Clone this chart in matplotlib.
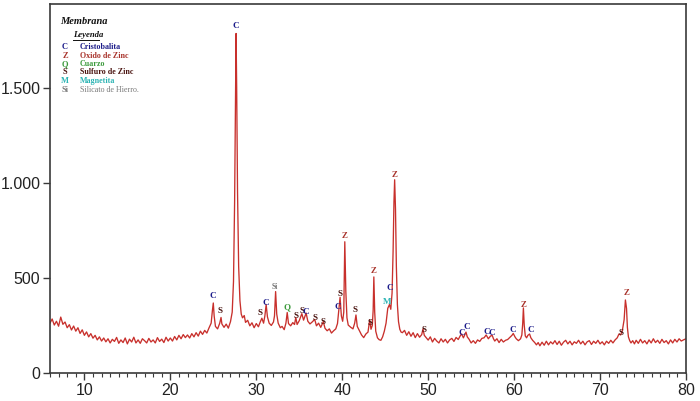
import matplotlib
matplotlib.use("Agg")
import matplotlib.pyplot as plt
from matplotlib.ticker import MultipleLocator, FuncFormatter
from matplotlib.lines import Line2D

# ---------------- data ----------------
two_theta = [
    6.00, 6.25, 6.50, 6.75, 7.00, 7.25, 7.50, 7.75, 8.00, 8.25, 8.50, 8.75, 9.00, 9.25, 9.50, 9.75,
    10.00, 10.25, 10.50, 10.75, 11.00, 11.25, 11.50, 11.75, 12.00, 12.25, 12.50, 12.75, 13.00, 13.25,
    13.50, 13.75, 14.00, 14.25, 14.50, 14.75, 15.00, 15.25, 15.50, 15.75, 16.00, 16.25, 16.50, 16.75,
    17.00, 17.25, 17.50, 17.75, 18.00, 18.25, 18.50, 18.75, 19.00, 19.25, 19.50, 19.75, 20.00, 20.25,
    20.50, 20.75, 21.00, 21.25, 21.50, 21.75, 22.00, 22.25, 22.50, 22.75, 23.00, 23.25, 23.50, 23.75,
    24.00, 24.25, 24.50, 24.75, 24.90, 25.00, 25.10, 25.25, 25.50, 25.75, 25.90, 26.00, 26.25, 26.50,
    26.75, 27.00, 27.20, 27.35, 27.48, 27.58, 27.65, 27.72, 27.82, 27.95, 28.10, 28.25, 28.40, 28.60,
    28.75, 29.00, 29.25, 29.50, 29.75, 30.00, 30.25, 30.45, 30.65, 30.85, 31.00, 31.15, 31.30, 31.50,
    31.75, 32.00, 32.12, 32.25, 32.38, 32.55, 32.80, 33.00, 33.25, 33.45, 33.60, 33.75, 34.00, 34.25,
    34.45, 34.60, 34.75, 35.00, 35.30, 35.50, 35.80, 36.00, 36.25, 36.50, 36.80, 37.00, 37.25, 37.50,
    37.80, 38.00, 38.25, 38.50, 38.75, 39.00, 39.25, 39.45, 39.60, 39.75, 39.90, 40.05, 40.18, 40.30,
    40.42, 40.55, 40.70, 41.00, 41.25, 41.45, 41.60, 41.75, 42.00, 42.25, 42.50, 42.75, 43.00, 43.20,
    43.35, 43.50, 43.60, 43.68, 43.78, 43.90, 44.10, 44.30, 44.50, 44.70, 44.90, 45.10, 45.30, 45.50,
    45.65, 45.80, 45.92, 46.02, 46.10, 46.20, 46.30, 46.42, 46.55, 46.70, 46.85, 47.00, 47.25, 47.50,
    47.75, 48.00, 48.25, 48.50, 48.75, 49.00, 49.25, 49.40, 49.55, 49.75, 50.00, 50.25, 50.50, 50.75,
    51.00, 51.25, 51.50, 51.75, 52.00, 52.25, 52.50, 52.75, 53.00, 53.25, 53.50, 53.75, 53.90, 54.10,
    54.25, 54.40, 54.55, 54.75, 55.00, 55.25, 55.50, 55.75, 56.00, 56.25, 56.50, 56.75, 57.00, 57.25,
    57.45, 57.60, 57.75, 58.00, 58.25, 58.50, 58.75, 59.00, 59.25, 59.50, 59.75, 59.90, 60.10, 60.25,
    60.50, 60.75, 60.90, 61.00, 61.08, 61.18, 61.30, 61.45, 61.60, 61.80, 61.95, 62.15, 62.40, 62.60,
    62.80, 63.00, 63.25, 63.50, 63.75, 64.00, 64.25, 64.50, 64.75, 65.00, 65.25, 65.50, 65.75, 66.00,
    66.25, 66.50, 66.75, 67.00, 67.25, 67.50, 67.75, 68.00, 68.25, 68.50, 68.75, 69.00, 69.25, 69.50,
    69.75, 70.00, 70.25, 70.50, 70.75, 71.00, 71.25, 71.50, 71.75, 72.00, 72.20, 72.40, 72.60, 72.80,
    72.95, 73.08, 73.18, 73.30, 73.45, 73.60, 73.80, 74.00, 74.20, 74.45, 74.70, 74.95, 75.20, 75.45,
    75.70, 75.95, 76.20, 76.45, 76.70, 76.95, 77.20, 77.45, 77.70, 77.95, 78.20, 78.45, 78.70, 78.95,
    79.20, 79.45, 79.70, 80.00,
]
intensity = [
    262, 284, 252, 272, 246, 294, 256, 268, 238, 254, 226, 247, 220, 238, 208, 227,
    198, 216, 190, 207, 183, 198, 174, 190, 168, 184, 164, 180, 158, 177,
    166, 187, 156, 174, 160, 184, 153, 178, 163, 188, 158, 174, 156, 180,
    170, 158, 182, 163, 174, 158, 186, 166, 178, 160, 188, 168, 184, 168,
    192, 174, 198, 180, 202, 186, 200, 184, 207, 190, 212, 194, 220, 203,
    224, 210, 237, 262, 330, 368, 300, 245, 232, 262, 292, 258, 240, 257,
    236, 270, 320, 480, 900, 1450, 1785, 1500, 950, 560, 380, 310, 290, 302,
    266, 277, 248, 264, 238, 260, 243, 267, 288, 262, 300, 360, 295, 262,
    250, 268, 300, 428, 310, 262, 238, 245, 228, 262, 318, 260, 248, 265,
    255, 292, 255, 275, 312, 278, 315, 272, 258, 268, 282, 248, 262, 240,
    270, 235, 222, 232, 210, 222, 232, 260, 330, 398, 300, 272, 320, 690,
    430, 290, 252, 240, 232, 262, 305, 245, 222, 200, 186, 205, 215, 280,
    230, 250, 330, 505, 320, 220, 185, 175, 172, 190, 220, 262, 340, 360,
    335, 420, 640, 900, 1016, 860, 560, 360, 270, 230, 215, 212, 224, 198,
    217, 193, 212, 186, 207, 188, 202, 232, 198, 187, 173, 190, 163, 182,
    168, 158, 180, 163, 177, 158, 174, 182, 166, 187, 176, 197, 205, 185,
    200, 215, 190, 178, 158, 170, 156, 174, 166, 182, 185, 200, 180, 194,
    198, 180, 168, 180, 160, 177, 163, 172, 176, 187, 198, 208, 190, 180,
    170, 180, 200, 260, 342, 250, 195, 185, 198, 205, 185, 172, 160, 148,
    160, 143, 162, 146, 167, 148, 164, 153, 170, 150, 167, 146, 162, 172,
    153, 167, 148, 164, 156, 172, 153, 167, 148, 164, 170, 150, 167, 156,
    172, 153, 164, 148, 167, 156, 172, 158, 174, 185, 205, 200, 225, 280,
    384, 340, 240, 190, 170, 158, 170, 153, 172, 156, 177, 158, 170, 153,
    174, 158, 180, 160, 172, 156, 177, 160, 170, 153, 174, 158, 177, 163,
    180, 168, 174, 180,
]

# phase labels above peaks: symbol, position (2theta), height
label_text = ["C", "S", "C", "S", "C", "Si", "Q", "S", "S", "C", "S", "S", "C", "S", "Z", "S",
              "S", "Z", "M", "C", "Z", "S", "C", "C", "C", "C", "C", "Z", "C", "S", "Z"]
label_x = [24.9, 25.8, 27.6, 30.4, 31.1, 32.2, 33.6, 34.6, 35.3, 35.8, 36.8, 37.8, 39.45, 39.8, 40.3, 41.55,
           43.2, 43.65, 45.2, 45.5, 46.05, 49.5, 53.9, 54.5, 56.8, 57.4, 59.8, 61.05, 61.9, 72.4, 73.1]
label_y = [405, 326, 1826, 316, 368, 453, 347, 300, 326, 321, 289, 268, 347, 416, 721, 332,
           263, 537, 374, 447, 1042, 226, 211, 242, 216, 211, 226, 358, 226, 211, 421]

legend_symbols = ["C", "Z", "Q", "S", "M", "Si"]
legend_names = ["Cristobalita", "Oxido de Zinc", "Cuarzo", "Sulfuro de Zinc", "Magnetita", "Silicato de Hierro."]

phase_colors = {"C": "#1c1c8a", "Z": "#a8322a", "Q": "#3c9a3c", "S": "#4a1410",
                "M": "#2cb4b4", "Si": "#7a7a7a"}

x_ticks = [10, 20, 30, 40, 50, 60, 70, 80]
y_ticks = [0, 500, 1000, 1500]

# ---------------- figure ----------------
W, H = 700, 401
fig = plt.figure(figsize=(7.0, 4.01), dpi=100)
ax = fig.add_axes([50 / W, (H - 373) / H, (686 - 50) / W, (373 - 4) / H])

ax.plot(two_theta, intensity, color="#c8302c", lw=0.95)

ax.set_xlim(6, 80)
ax.set_ylim(0, 1940)
ax.set_xticks(x_ticks)
ax.set_yticks(y_ticks)
ax.xaxis.set_minor_locator(MultipleLocator(1))
ax.yaxis.set_major_formatter(FuncFormatter(lambda v, p: f"{int(v):,}".replace(",", ".")))

for s in ax.spines.values():
    s.set_color("#3a3a3a")
    s.set_linewidth(1.2)
ax.tick_params(axis="both", which="major", direction="out", length=5, width=1, color="#3a3a3a",
               labelsize=11.5, labelcolor="#222222", pad=2)
ax.tick_params(axis="x", which="minor", direction="out", length=3, width=0.8, color="#3a3a3a")
for lab in ax.get_xticklabels() + ax.get_yticklabels():
    lab.set_family(["Liberation Sans", "DejaVu Sans"])

# peak labels
for t, xv, yv in zip(label_text, label_x, label_y):
    ax.text(xv, yv, t, color=phase_colors[t], ha="center", va="center",
            fontsize=6.5 if t != "Si" else 5.5, fontweight="bold", family="Liberation Serif")

# legend block (top-left)
def fx(px):
    return px / W

def fy(py):
    return 1 - py / H

fig.text(fx(60), fy(22), "Membrana", fontsize=7.5, fontweight="bold", fontstyle="italic",
         family="Liberation Serif", color="#111111", va="center")
fig.text(fx(73), fy(35), "Leyenda", fontsize=6.2, fontweight="bold", fontstyle="italic",
         family="Liberation Serif", color="#111111", va="center")
fig.add_artist(Line2D([fx(73), fx(99)], [fy(40), fy(40)], color="#111111", lw=0.7))
row_y = [47, 55.5, 64, 72.5, 81, 89.5]
for sym, name, yy in zip(legend_symbols, legend_names, row_y):
    c = phase_colors[sym]
    fig.text(fx(65), fy(yy), sym, fontsize=6, fontweight="bold", family="Liberation Serif",
             color=c, ha="center", va="center")
    fig.text(fx(80), fy(yy), name, fontsize=5.8, fontweight="bold" if sym != "Si" else "normal",
             family="Liberation Serif", color=c, va="center")

fig.savefig("out.png", dpi=100)
